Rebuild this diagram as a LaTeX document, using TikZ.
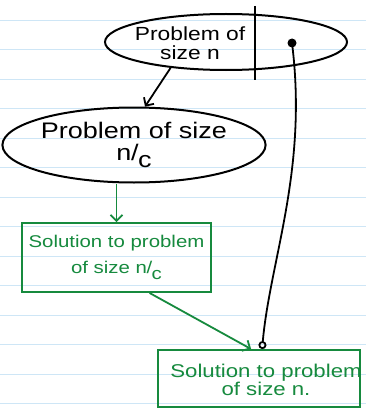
\documentclass[tikz,border=0pt]{standalone}
\usepackage{fontspec}
\newfontfamily\hand[FakeStretch=1.2]{Liberation Sans}
\usepackage{tikz}
\usetikzlibrary{shapes.geometric,arrows.meta,calc,positioning}
\definecolor{solgreen}{RGB}{22,138,62}
\definecolor{ruled}{RGB}{206,230,246}
\newcommand{\nover}{n\kern-0.5pt/\kern-0.5pt\raisebox{-0.35em}{c}}

\begin{document}
\begin{tikzpicture}[x=1pt,y=-1pt,
    prob/.style={ellipse, draw=black, line width=2pt, inner sep=0pt},
    sol/.style={rectangle, draw=solgreen, line width=1.9pt, inner sep=0pt},
    conn/.style={-{Straight Barb[length=6pt,width=12pt]}, line width=1.8pt}]
        %Paper
        \fill[white] (0,0) rectangle (366,412);
        \useasboundingbox (0,0) rectangle (366,412);
        \foreach \y in {0,...,13}
            \draw[ruled, line width=0.8pt] (0,20+29.5*\y) -- (366,20+29.5*\y);
        %Problems
        \node[prob, minimum width=242, minimum height=56] (p1) at (226,42) {};
        \node[align=center, inner sep=0pt, font=\hand\fontsize{19}{19.5}\selectfont] (t1) at (190,43) {Problem of\\ size n};
        \draw[line width=2pt] (255,6) -- (255,80);
        \coordinate (dot) at (292,43);
        \fill (dot) circle (4.5);
        \node[prob, minimum width=252, minimum height=75, align=center,
              font=\hand\fontsize{22.5}{24}\selectfont] (p2) at (134,145) {Problem of size\\[-2pt] \nover};
        %Solutions
        \node[sol, minimum width=189, minimum height=69, align=center, text=solgreen,
              font=\hand\fontsize{17}{26}\selectfont] (s1) at (116.5,257.5) {Solution to problem\\ of size \nover};
        \node[sol, minimum width=202, minimum height=57] (s2) at (259,378.5) {};
        \node[align=center, text=solgreen, inner sep=0pt, font=\hand\fontsize{18.5}{17}\selectfont] (t2) at (266,380) {Solution to problem\\ of size n.};
        %Draw arrows
        \draw[conn] (p1.205) -- (p2.74);
        \draw[conn, solgreen] (s1.north |- p2.south) -- (s1.north);
        \draw[conn, solgreen] (s1.-47.6) -- (s2.105);
        \draw[line width=1.8pt, -{Circle[open,length=8pt,width=8pt]}] (dot) .. controls (308,170) and (270,260) .. (s2.84);
\end{tikzpicture}
\end{document}
